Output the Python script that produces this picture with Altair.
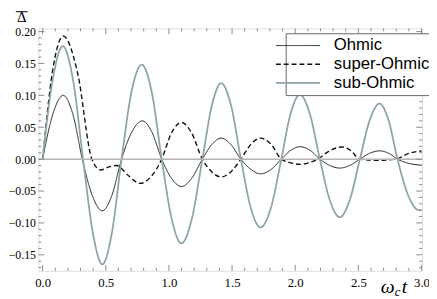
import altair as alt
import pandas as pd

series_names = ["Ohmic", "super-Ohmic", "sub-Ohmic"]

ohmic_t = [0.0, 0.08, 0.163, 0.24, 0.314, 0.393, 0.472, 0.548, 0.625, 0.705, 0.79, 0.866, 0.943,
           1.02, 1.10, 1.18, 1.265, 1.34, 1.414, 1.49, 1.57, 1.648, 1.725, 1.81, 1.89, 1.965,
           2.04, 2.118, 2.195, 2.273, 2.352, 2.432, 2.512, 2.59, 2.668, 2.74, 2.81, 2.895, 2.98, 3.0]
ohmic_v = [0.0, 0.070, 0.100, 0.070, 0.0, -0.057, -0.081, -0.057, 0.0, 0.042, 0.060, 0.042, 0.0,
           -0.030, -0.043, -0.030, 0.0, 0.023, 0.033, 0.023, 0.0, -0.016, -0.023, -0.016, 0.0, 0.0138,
           0.0195, 0.0138, 0.0, -0.0099, -0.014, -0.0099, 0.0, 0.0092, 0.013, 0.0092, 0.0, -0.0064, -0.0091, -0.0092]

super_t = [0.0, 0.08, 0.163, 0.277, 0.39, 0.46, 0.52, 0.585, 0.68, 0.77, 0.86, 0.943,
           1.02, 1.10, 1.18, 1.265, 1.34, 1.414, 1.49, 1.57, 1.648, 1.725, 1.81, 1.89,
           1.965, 2.04, 2.11, 2.178, 2.275, 2.37, 2.44, 2.51, 2.59, 2.67, 2.74, 2.80, 2.90, 3.0]
super_v = [0.0, 0.140, 0.193, 0.135, 0.0, -0.017, -0.0125, -0.010, -0.026, -0.038, -0.027, 0.0,
           0.041, 0.0575, 0.041, 0.0, -0.020, -0.028, -0.020, 0.0, 0.023, 0.033, 0.023, 0.0,
           -0.0058, -0.0082, -0.0055, 0.0, 0.0135, 0.019, 0.0135, 0.0, -0.0015, -0.002, -0.001, 0.0, 0.009, 0.0128]

sub_t = [0.0, 0.08, 0.16, 0.24, 0.32, 0.399, 0.472, 0.547, 0.625, 0.703, 0.785, 0.864, 0.943,
         1.021, 1.099, 1.182, 1.265, 1.34, 1.414, 1.492, 1.57, 1.648, 1.725, 1.808, 1.89,
         1.963, 2.036, 2.116, 2.195, 2.274, 2.352, 2.432, 2.512, 2.59, 2.668, 2.739, 2.81, 2.895, 2.98, 3.0]
sub_v = [0.0, 0.125, 0.177, 0.125, 0.0, -0.117, -0.165, -0.117, 0.0, 0.105, 0.148, 0.105, 0.0,
         -0.093, -0.132, -0.093, 0.0, 0.084, 0.119, 0.084, 0.0, -0.076, -0.107, -0.076, 0.0,
         0.071, 0.101, 0.071, 0.0, -0.064, -0.091, -0.064, 0.0, 0.061, 0.087, 0.061, 0.0, -0.057, -0.080, -0.0795]

x_major = [0.0, 0.5, 1.0, 1.5, 2.0, 2.5, 3.0]
x_minor = [0.1, 0.2, 0.3, 0.4, 0.6, 0.7, 0.8, 0.9, 1.1, 1.2, 1.3, 1.4, 1.6, 1.7, 1.8, 1.9,
           2.1, 2.2, 2.3, 2.4, 2.6, 2.7, 2.8, 2.9]
y_major = [-0.15, -0.10, -0.05, 0.0, 0.05, 0.10, 0.15, 0.20]
y_minor = [-0.17, -0.16, -0.14, -0.13, -0.12, -0.11, -0.09, -0.08, -0.07, -0.06, -0.04, -0.03,
           -0.02, -0.01, 0.01, 0.02, 0.03, 0.04, 0.06, 0.07, 0.08, 0.09, 0.11, 0.12, 0.13, 0.14,
           0.16, 0.17, 0.18, 0.19]

y_title = "Δ"
x_title_main = "ω"
x_title_sub = "c"
x_title_end = "t"

LEFT = 31  # svg padding; plot left edge at page x = 8 + LEFT
W, H = 391, 247
FRAME = "#8a8a8a"
PL = 8 + LEFT  # page x of plot left

rows = []
for name, ts, vs in [("Ohmic", ohmic_t, ohmic_v), ("super-Ohmic", super_t, super_v), ("sub-Ohmic", sub_t, sub_v)]:
    for i, (t, v) in enumerate(zip(ts, vs)):
        rows.append({"series": name, "t": t, "v": v, "i": i})
df = pd.DataFrame(rows)

xscale = alt.Scale(domain=[-0.0334, 3.005], nice=False, zero=False)
yscale = alt.Scale(domain=[-0.175, 0.205], nice=False, zero=False)

xaxis = alt.Axis(values=x_major, format=".1f", ticks=False, domain=False, grid=False,
                 labelFont="Liberation Serif", labelFontSize=13, labelColor="black",
                 labelPadding=6, labelFlush=False, labelOverlap=False, title=None)
yaxis = alt.Axis(values=y_major, format=".2f", ticks=False, domain=False, grid=False,
                 labelFont="Liberation Serif", labelFontSize=12, labelColor="black",
                 labelPadding=3, labelFlush=False, labelOverlap=False, title=None)

X = alt.X("t:Q", scale=xscale, axis=xaxis, title=None)
Y = alt.Y("v:Q", scale=yscale, axis=yaxis, title=None)

leg = alt.Legend(orient="none", legendX=276 - PL + 15, legendY=5, title=None,
                 symbolType="M-3,0H3", symbolSize=225, symbolStrokeWidth=1.5,
                 labelFont="Liberation Sans", labelFontSize=17, labelColor="black",
                 labelLimit=300, strokeColor="#666666", fillColor="white",
                 padding=4, rowPadding=1, labelOffset=28, cornerRadius=0)

lines = alt.Chart(df).mark_line(interpolate="monotone").encode(
    x=X, y=Y,
    color=alt.Color("series:N", scale=alt.Scale(domain=series_names, range=["#222222", "#111111", "#8ea4aa"]), legend=leg),
    strokeDash=alt.StrokeDash("series:N", scale=alt.Scale(domain=series_names, range=[[1, 0], [5, 3], [1, 0]]), legend=leg),
    strokeWidth=alt.StrokeWidth("series:N", scale=alt.Scale(domain=series_names, range=[1.0, 1.8, 3.2]), legend=None),
    order="i:Q",
)

zero = alt.Chart(pd.DataFrame({"v": [0.0]})).mark_rule(color="#b4b4b4", strokeWidth=1.5).encode(y=Y)

xmaj = pd.DataFrame({"t": x_major})
xmin = pd.DataFrame({"t": x_minor})
ymaj = pd.DataFrame({"v": y_major})
ymin = pd.DataFrame({"v": y_minor})

def xticks(d, L):
    bot = alt.Chart(d).mark_rule(color=FRAME, strokeWidth=1).encode(
        x=X, y=alt.value(H), y2=alt.value(H - L))
    top = alt.Chart(d).mark_rule(color=FRAME, strokeWidth=1).encode(
        x=X, y=alt.value(0), y2=alt.value(L))
    return [bot, top]

def yticks(d, L):
    lft = alt.Chart(d).mark_rule(color=FRAME, strokeWidth=1).encode(
        y=Y, x=alt.value(0), x2=alt.value(L))
    rgt = alt.Chart(d).mark_rule(color=FRAME, strokeWidth=1).encode(
        y=Y, x=alt.value(W), x2=alt.value(W - L))
    return [lft, rgt]

tick_layers = xticks(xmaj, 6) + xticks(xmin, 3) + yticks(ymaj, 6) + yticks(ymin, 3)

def label(txt, x, y, size, italic=False):
    return alt.Chart(pd.DataFrame({"s": [txt]})).mark_text(
        font="Liberation Serif", fontSize=size, fontStyle="italic" if italic else "normal",
        color="black", align="center", baseline="alphabetic").encode(
        text="s:N", x=alt.value(x), y=alt.value(y))

bar = alt.Chart(pd.DataFrame({"s": [y_title]})).mark_rule(color="black", strokeWidth=1).encode(
    x=alt.value(16 - PL), x2=alt.value(28 - PL), y=alt.value(-17))

titles = [
    label(y_title, 22 - PL, -6.5, 15),
    label(x_title_main, 395 - PL, 270, 20, True),
    label(x_title_sub, 405 - PL, 273, 13, True),
    label(x_title_end, 412 - PL, 270, 20, True),
]

chart = alt.layer(lines, zero, *tick_layers, *titles, bar).properties(
    width=W, height=H,
    autosize=alt.AutoSizeParams(type="none"),
    padding={"left": LEFT, "top": 18, "right": 7, "bottom": 26},
).configure_view(stroke=FRAME, strokeWidth=1).configure(background="white")

chart.save("out.html", embed_options={"renderer": "svg", "actions": False})
